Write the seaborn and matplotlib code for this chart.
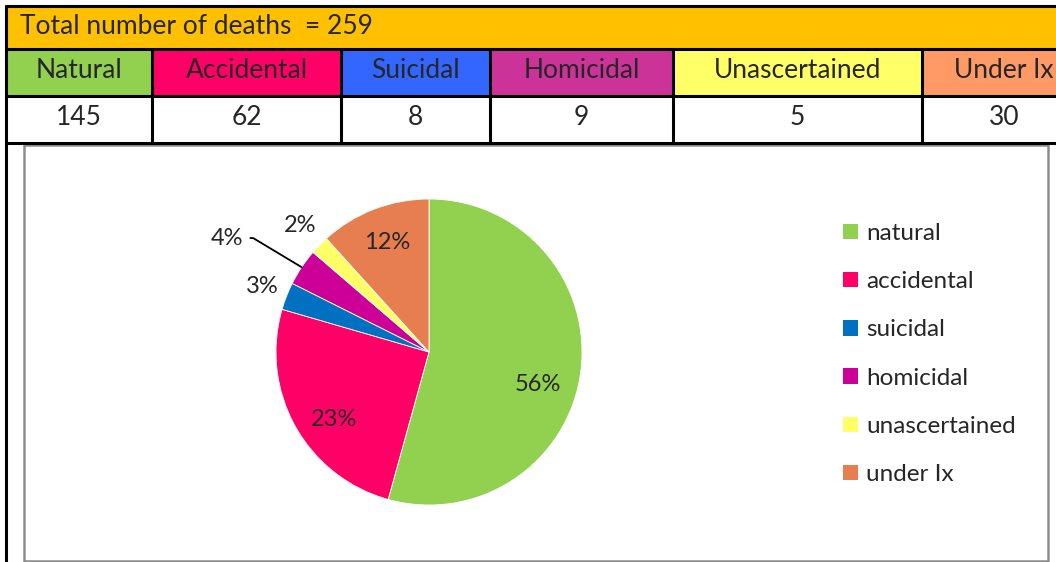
"""Pie of manner of death with the summary table on top."""

import matplotlib
matplotlib.use("Agg")
import matplotlib.pyplot as plt
import numpy as np
import seaborn as sns
from matplotlib.patches import Patch, Rectangle

# Table contents
TITLE = "Total number of deaths  = 259"
table_labels = ["Natural", "Accidental", "Suicidal", "Homicidal", "Unascertained", "Under Ix"]
table_counts = [145, 62, 8, 9, 5, 30]
table_colors = ["#92D050", "#FF0066", "#3366FF", "#CC3399", "#FFFF66", "#FF9966"]

# Pie contents (wedge shares as drawn, in percent, and the printed labels)
pie_labels = ["natural", "accidental", "suicidal", "homicidal", "unascertained", "under Ix"]
pie_shares = [54.3, 25.2, 2.9, 3.9, 2.0, 11.7]
pie_pct_text = ["56%", "23%", "3%", "4%", "2%", "12%"]
pie_colors = ["#92D050", "#FF0066", "#0070C0", "#CC0099", "#FFFF66", "#E67E50"]

W, H = 1056, 562
FONT = ["Lato", "DejaVu Sans"]

sns.set_theme(style="white")
plt.rcParams["font.family"] = FONT

fig = plt.figure(figsize=(W / 100, H / 100), dpi=100)

# full-figure axes in pixel coords for the table and frames
bg = fig.add_axes([0, 0, 1, 1])
bg.set_xlim(0, W)
bg.set_ylim(H, 0)
bg.axis("off")

col_edges = [6, 152, 341, 490, 673, 922, 1060]
row_edges = [6, 49, 96, 143]
TFS = 19

bg.add_patch(Rectangle((6, 6), W, 43, facecolor="#FFC000", edgecolor="none"))
bg.text(20, 33.5, TITLE, fontsize=TFS, va="baseline", ha="left")

for i, (lab, n, c) in enumerate(zip(table_labels, table_counts, table_colors)):
    x0, x1 = col_edges[i], col_edges[i + 1]
    bg.add_patch(Rectangle((x0, 49), x1 - x0, 47, facecolor=c, edgecolor="none"))
    # last column is cut off by the picture edge
    xc = (x0 + x1) / 2 if i < len(table_labels) - 1 else 1004
    bg.text(xc, 78.5, lab, fontsize=TFS, va="baseline", ha="center")
    bg.text(xc, 125, str(n), fontsize=TFS, va="baseline", ha="center")

lw = 2.2
for y in row_edges:
    bg.plot([5, W], [y, y], color="black", lw=lw, solid_capstyle="butt")
bg.plot([6, 6], [5, H], color="black", lw=lw, solid_capstyle="butt")
for x in col_edges[1:-1]:
    bg.plot([x, x], [49, 143], color="black", lw=lw, solid_capstyle="butt")

# grey chart frame
bg.add_patch(Rectangle((24, 145), 1048 - 24, 561 - 145, facecolor="none",
                       edgecolor="#8C8C8C", lw=1.8))

# pie
cx, cy, R = 429, 352, 153
ax = fig.add_axes([(cx - R) / W, (H - cy - R) / H, 2 * R / W, 2 * R / H])
wedges, _ = ax.pie(pie_shares, colors=pie_colors, startangle=90, counterclock=False,
                   wedgeprops={"linewidth": 0.6, "edgecolor": "white"})
ax.set_xlim(-1, 1)
ax.set_ylim(-1, 1)
ax.set_aspect("equal")

PFS = 17
label_dist = [0.74, 0.76, 1.17, None, 1.18, 0.77]
label_turn = [-9, 6.5, 0, 0, 0, 0]  # degrees, label placement only
for w, txt, d, turn in zip(wedges, pie_pct_text, label_dist, label_turn):
    mid = np.deg2rad((w.theta1 + w.theta2) / 2)
    if d is None:
        # label pulled out with a leader line
        ax.annotate(txt, xy=(np.cos(mid), np.sin(mid)), xytext=(-54, 21),
                    textcoords="offset points", fontsize=PFS, ha="center", va="center",
                    arrowprops=dict(arrowstyle="-", color="black", lw=1.3,
                                    shrinkA=3, shrinkB=0,
                                    connectionstyle="angle,angleA=0,angleB=-31,rad=0"))
    else:
        a = mid + np.deg2rad(turn)
        ax.text(d * np.cos(a), d * np.sin(a), txt, fontsize=PFS,
                ha="center", va="center")

handles = [Patch(facecolor=c, edgecolor="none") for c in pie_colors]
fig.legend(handles, pie_labels, loc="upper left", bbox_to_anchor=(843 / W, 1 - 223 / H),
           frameon=False, fontsize=17.5, handlelength=0.6, handleheight=0.6,
           handletextpad=0.35, labelspacing=1.12, borderaxespad=0, borderpad=0)

fig.savefig("out.png", dpi=100)
